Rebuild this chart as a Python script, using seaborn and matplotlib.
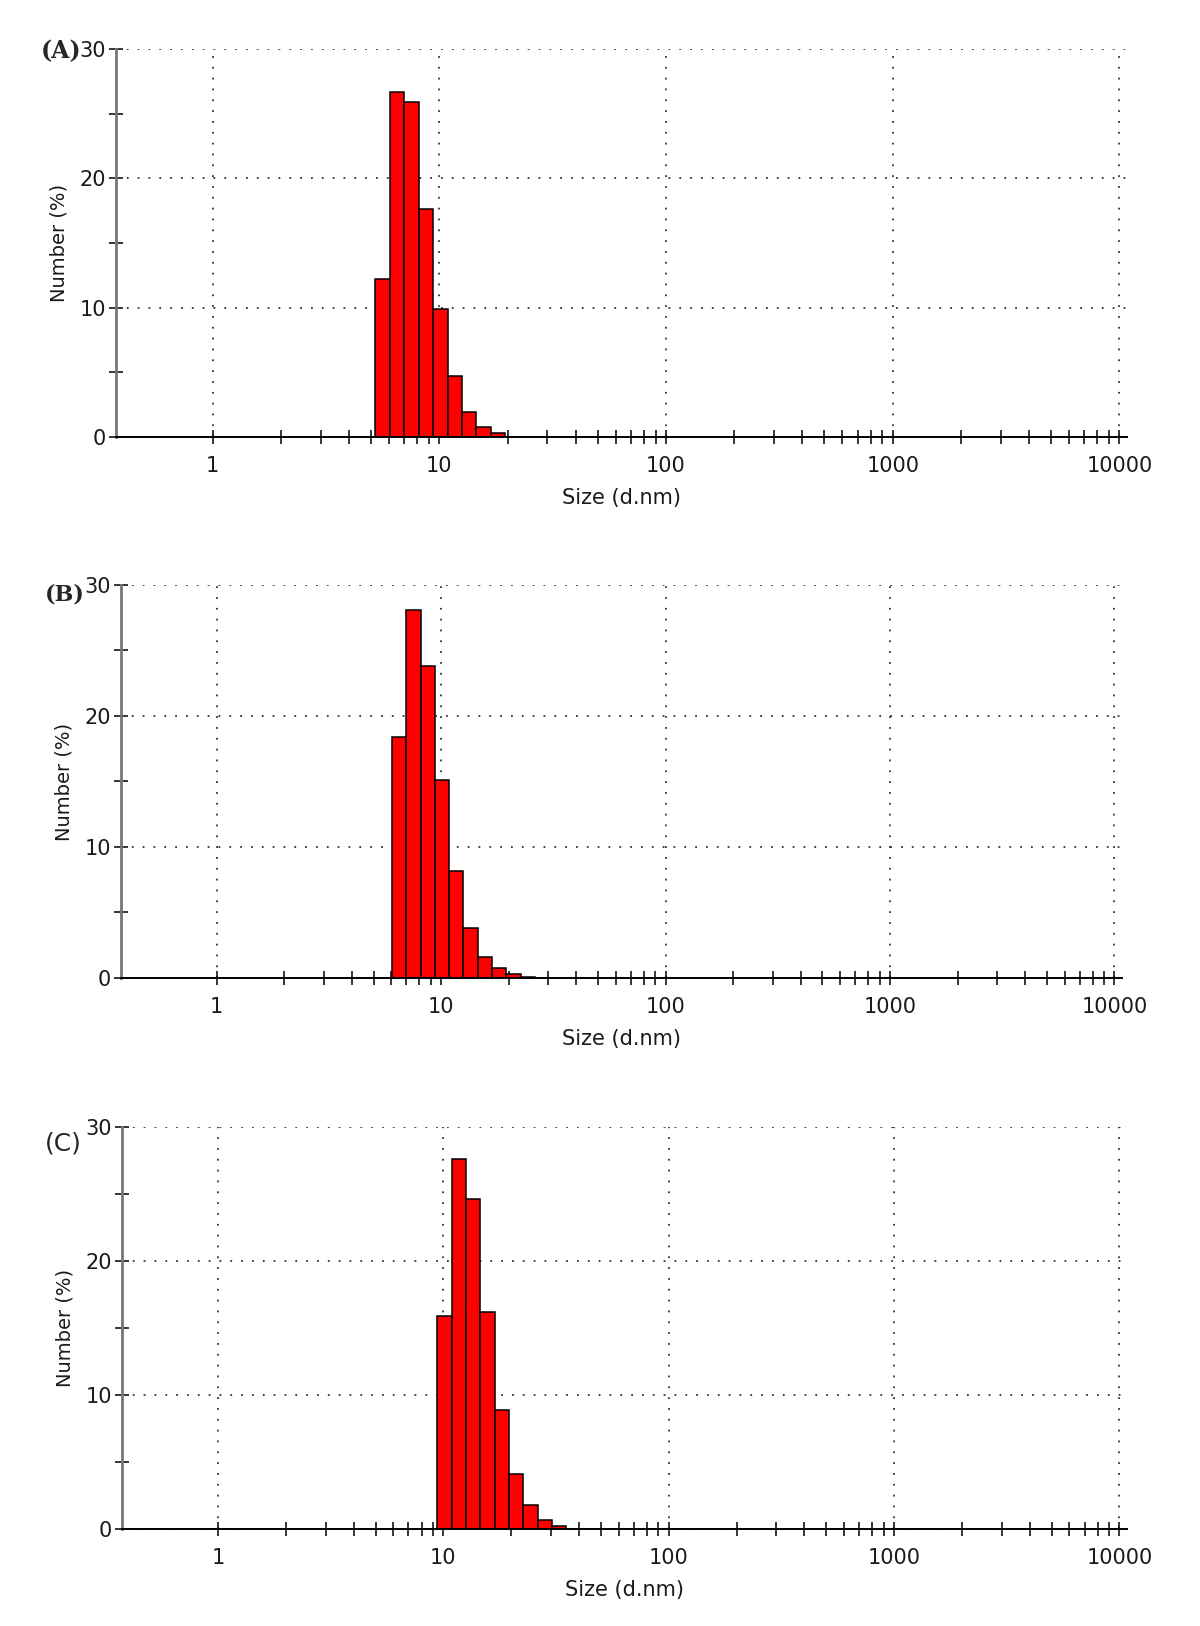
import numpy as np
import pandas as pd
import matplotlib.pyplot as plt
import seaborn as sns
from matplotlib.ticker import FixedLocator, NullFormatter

# DLS number distributions (Zetasizer size classes, d.nm) for the three samples
size_a = [5.615, 6.503, 7.531, 8.721, 10.10, 11.70, 13.54, 15.69, 18.17]
number_a = [12.2, 26.7, 25.9, 17.6, 9.9, 4.7, 1.9, 0.8, 0.3]

size_b = [6.503, 7.531, 8.721, 10.10, 11.70, 13.54, 15.69, 18.17, 21.04, 24.36]
number_b = [18.4, 28.1, 23.8, 15.1, 8.2, 3.8, 1.6, 0.8, 0.3, 0.1]

size_c = [10.10, 11.70, 13.54, 15.69, 18.17, 21.04, 24.36, 28.21, 32.67]
number_c = [15.9, 27.6, 24.6, 16.2, 8.9, 4.1, 1.8, 0.7, 0.2]

panel_labels = ['(A)', '(B)', '(C)']
x_ticks = [1, 10, 100, 1000, 10000]
y_ticks = [0, 10, 20, 30]

sns.set_style('white')
plt.rcParams['font.family'] = ['DejaVu Sans']

W, H = 1200, 1626
fig = plt.figure(figsize=(W / 100, H / 100), dpi=100)
fig.patch.set_facecolor('white')

# axes boxes in pixels: left, right, top, bottom
boxes = [(116, 1127, 49, 437), (121, 1122, 585, 978), (122, 1127, 1127, 1529)]
label_pos = [(41, 51), (45, 594), (45, 1143)]
label_size = [17, 16, 18]
datasets = [(size_a, number_a), (size_b, number_b), (size_c, number_c)]

for i, ((sizes, numbers), (l, r, t, b)) in enumerate(zip(datasets, boxes)):
    ax = fig.add_axes([l / W, 1 - b / H, (r - l) / W, (b - t) / H])
    df = pd.DataFrame({'size': sizes, 'number': numbers})

    # bin edges half a class either side of each size class (log space)
    logs = np.log10(df['size'].values)
    half = (logs[1] - logs[0]) / 2
    edges = np.append(logs - half, logs[-1] + half).tolist()

    sns.histplot(data=df, x='size', weights='number', bins=edges, log_scale=True,
                 color='#ff0000', alpha=1, edgecolor='black', linewidth=1.1, ax=ax)

    ax.set_xlim(0.375, 10800)
    ax.set_ylim(0, 30)
    ax.xaxis.set_major_locator(FixedLocator(x_ticks))
    ax.set_xticklabels([str(v) for v in x_ticks])
    ax.xaxis.set_minor_locator(FixedLocator(
        [m * 10 ** k for k in range(0, 4) for m in range(2, 10)]))
    ax.xaxis.set_minor_formatter(NullFormatter())
    ax.yaxis.set_major_locator(FixedLocator(y_ticks))
    ax.yaxis.set_minor_locator(FixedLocator([5, 15, 25]))

    ax.tick_params(which='both', bottom=True, left=True, direction='inout',
                   length=10, width=1.1, color='black')
    ax.tick_params(axis='x', which='major', pad=9, labelsize=15, labelcolor='#1a1a1a')
    ax.tick_params(axis='y', which='major', pad=2, labelsize=15, labelcolor='#1a1a1a')

    ax.grid(True, which='major', linestyle=(0, (1, 5)), color='#333333', linewidth=1.3)
    ax.set_axisbelow(True)

    sns.despine(ax=ax)
    ax.spines['left'].set_color('#777777')
    ax.spines['left'].set_linewidth(2)
    ax.spines['bottom'].set_color('black')
    ax.spines['bottom'].set_linewidth(1.4)

    ax.set_xlabel('Size (d.nm)', fontsize=15, labelpad=8, color='#1a1a1a')
    ax.set_ylabel('Number (%)', fontsize=14, labelpad=8, color='#1a1a1a')

    lx, ly = label_pos[i]
    if i < 2:
        fig.text(lx / W, 1 - ly / H, panel_labels[i], fontsize=label_size[i], fontweight='bold',
                 family=['DejaVu Serif'], va='center', ha='left')
    else:
        fig.text(lx / W, 1 - ly / H, panel_labels[i], fontsize=label_size[i],
                 va='center', ha='left')

fig.savefig('out.png', dpi=100, facecolor='white')
